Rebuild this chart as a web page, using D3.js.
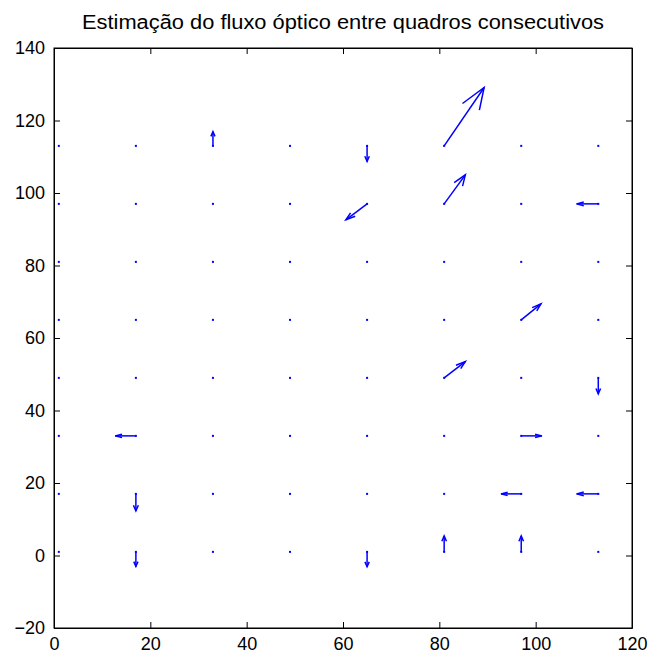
<!DOCTYPE html>
<html>
<head>
<meta charset="utf-8">
<script src="https://cdn.jsdelivr.net/npm/d3@7"></script>
<style>
body { margin:0; background:#fff; }
text { font-family: "Liberation Sans", Arial, sans-serif; }
</style>
</head>
<body>
<div id="wrapper"></div>
<script>
// grid of sample points
const gridX = [1, 17, 33, 49, 65, 81, 97, 113]
const gridY = [1, 17, 33, 49, 65, 81, 97, 113]

// non zero flow vectors (already scaled, data units)
const arrowX = [33, 65, 81, 65, 81, 113, 97, 81, 113, 17, 97, 17, 97, 113, 17, 65, 81, 97]
const arrowY = [113, 113, 113, 97, 97, 97, 65, 49, 49, 33, 33, 17, 17, 17, 1, 1, 1, 1]
const arrowU = [0, 0, 8.3, -4.4, 4.4, -4.5, 4.1, 4.4, 0, -4.3, 4.3, 0, -4.2, -4.5, 0, 0, 0, 0]
const arrowV = [3.9, -4.3, 16.1, -4.4, 8.0, 0, 4.4, 4.5, -4.4, 0, 0, -4.7, 0, 0, -4.0, -4.1, 4.4, 4.4]

const xTicks = [0, 20, 40, 60, 80, 100, 120]
const yTicks = [-20, 0, 20, 40, 60, 80, 100, 120, 140]
const title = "Estimação do fluxo óptico entre quadros consecutivos"

const dimensions = {
    width: 652, height: 658,
    margins: {top: 48, bottom: 30, left: 54, right: 20}
}
dimensions.boundsWidth = dimensions.width - dimensions.margins.left - dimensions.margins.right
dimensions.boundsHeight = dimensions.height - dimensions.margins.top - dimensions.margins.bottom

const svg = d3.select("#wrapper").append("svg")
    .attr("width", dimensions.width)
    .attr("height", dimensions.height)

const bounds = svg.append("g")
    .attr("transform", `translate(${dimensions.margins.left},${dimensions.margins.top})`)

const xScale = d3.scaleLinear().domain([0, 120]).range([0, dimensions.boundsWidth])
const yScale = d3.scaleLinear().domain([-20, 140]).range([dimensions.boundsHeight, 0])

// axes, ticks inward like matlab
const tl = 6
bounds.append("g").attr("transform", `translate(0,${dimensions.boundsHeight})`)
    .call(d3.axisBottom(xScale).tickValues(xTicks).tickSizeInner(-tl).tickSizeOuter(0).tickPadding(9))
bounds.append("g")
    .call(d3.axisTop(xScale).tickValues(xTicks).tickSizeInner(-tl).tickSizeOuter(0).tickFormat(""))
bounds.append("g")
    .call(d3.axisLeft(yScale).tickValues(yTicks).tickSizeInner(-tl).tickSizeOuter(0).tickPadding(9))
bounds.append("g").attr("transform", `translate(${dimensions.boundsWidth},0)`)
    .call(d3.axisRight(yScale).tickValues(yTicks).tickSizeInner(-tl).tickSizeOuter(0).tickFormat(""))

bounds.selectAll(".domain").attr("stroke", "#000")
bounds.selectAll(".tick line").attr("stroke", "#000")
bounds.selectAll(".tick text").attr("font-size", 18).attr("fill", "#000")
    .attr("font-family", "Liberation Sans, Arial, sans-serif")

// box
bounds.append("rect")
    .attr("width", dimensions.boundsWidth).attr("height", dimensions.boundsHeight)
    .attr("fill", "none").attr("stroke", "#000")

svg.append("text")
    .attr("x", dimensions.margins.left + dimensions.boundsWidth / 2)
    .attr("y", 29)
    .attr("text-anchor", "middle")
    .attr("font-size", 20)
    .attr("textLength", 522)
    .attr("lengthAdjust", "spacingAndGlyphs")
    .text(title)

// zero vectors: dots
const pts = []
gridX.forEach(x => gridY.forEach(y => pts.push({x, y})))
bounds.selectAll("rect.dot").data(pts).enter().append("rect")
    .attr("class", "dot")
    .attr("x", d => xScale(d.x) - 1).attr("y", d => yScale(d.y) - 1)
    .attr("width", 2).attr("height", 2)
    .attr("fill", "#0000ff")

// arrows, head like matlab quiver (alpha = beta = 0.33)
const alpha = 0.33, beta = 0.33
const arrows = arrowX.map((x, i) => ({x, y: arrowY[i], u: arrowU[i], v: arrowV[i]}))
const line = d3.line().x(d => xScale(d[0])).y(d => yScale(d[1]))
const blue = "#0000ff"

arrows.forEach(d => {
    const tx = d.x + d.u, ty = d.y + d.v
    bounds.append("path").attr("d", line([[d.x, d.y], [tx, ty]]))
        .attr("stroke", blue).attr("stroke-width", 1.5).attr("fill", "none")
    const head = [
        [tx - alpha * (d.u + beta * d.v), ty - alpha * (d.v - beta * d.u)],
        [tx, ty],
        [tx - alpha * (d.u - beta * d.v), ty - alpha * (d.v + beta * d.u)]
    ]
    bounds.append("path").attr("d", line(head))
        .attr("stroke", blue).attr("stroke-width", 1.5).attr("fill", "none")
})
</script>
</body>
</html>
